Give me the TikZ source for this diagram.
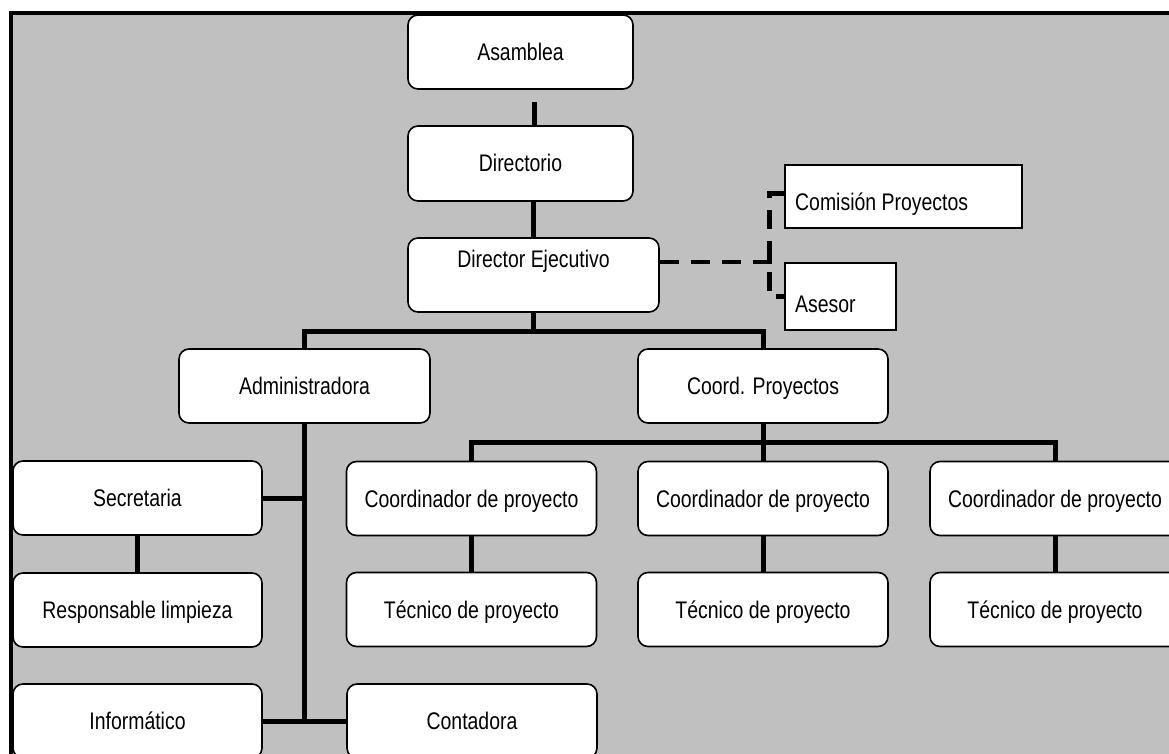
\documentclass[tikz,border=0pt]{standalone}
\usepackage{fontspec}
\setmainfont{Liberation Sans}
\newfontfamily\narrowfont[FakeStretch=0.81]{Liberation Sans}
\usetikzlibrary{calc}
\definecolor{bggray}{HTML}{C0C0C0}
\begin{document}
\begin{tikzpicture}[x=1pt,y=-1pt,
  lbl/.style={font=\narrowfont\fontsize{24}{28}\selectfont, text height=17pt, text depth=0pt, inner sep=0pt},
  box/.style={lbl, draw=black, line width=1.6pt, fill=white, rounded corners=10pt,
              minimum width=250pt, minimum height=74pt},
  sqbox/.style={draw=black, line width=1.6pt, fill=white, inner sep=0pt},
  conn/.style={draw=black, line width=5pt},
  dconn/.style={draw=black, line width=4.5pt, dash pattern=on 19pt off 12pt}]
\useasboundingbox (0,0) rectangle (1169,754);
\clip (0,0) rectangle (1169,754);
% background panel
\path[fill=bggray, draw=black, line width=4pt] (10.5,13) rectangle (1400,900);

% helper coordinates
\coordinate (bar1) at (0,331);
\coordinate (bar2) at (0,442);
\coordinate (dy) at (0,262);
\coordinate (dx) at (769.5,0);
\coordinate (cy) at (0,193.5);

% nodes
\node[box, minimum width=225pt] (asamblea) at (520.5,52) {Asamblea};
\node[box, minimum width=225pt, minimum height=75pt] (directorio) at (520.5,163.5) {Directorio};
\node[box, minimum width=251pt] (dej) at (533.5,275) {};
\node[lbl] (dejt) at (533.5,259) {Director Ejecutivo};
\node[sqbox, minimum width=237pt, minimum height=63pt] (comision) at (903.5,196.5) {};
\node[lbl, anchor=west] (comisiont) at (795,202) {Comisión Proyectos};
\node[sqbox, minimum width=111pt, minimum height=67pt] (asesor) at (840.5,296.5) {};
\node[lbl, anchor=west] (asesort) at (795,304) {Asesor};
\node[box, minimum width=251pt] (admin) at (304.5,386) {Administradora};
\node[box] (coordp) at (763,386) {Coord. Proyectos};
\node[box] (c1) at (471.5,498.5) {Coordinador de proyecto};
\node[box] (c2) at (763,498.5) {Coordinador de proyecto};
\node[box] (c3) at (1055,498.5) {Coordinador de proyecto};
\node[box] (t1) at (471.5,609.5) {Técnico de proyecto};
\node[box] (t2) at (763,609.5) {Técnico de proyecto};
\node[box] (t3) at (1055,609.5) {Técnico de proyecto};
\node[box, minimum width=249pt] (secre) at (137.5,498) {Secretaria};
\node[box, minimum width=249pt] (limp) at (137.5,610) {Responsable limpieza};
\node[box, minimum width=249pt] (info) at (137.5,721) {Informático};
\node[box] (conta) at (472,721) {Contadora};

% connectors
\draw[conn] ($(directorio.north)+(13.5,0)$) -- ++(0,-23);
\draw[conn] (dej.north) -- (dej.north |- directorio.south);
\draw[conn] (dej.south) -- (dej.south |- bar1);
\draw[conn] (admin.north) -- (admin.north |- bar1) -- (coordp.north |- bar1) -- (coordp.north);
\draw[conn] (coordp.south) -- (coordp.south |- bar2);
\draw[conn] (c1.north) -- (c1.north |- bar2) -- (c3.north |- bar2) -- (c3.north);
\draw[conn] (c2.north) -- (c2.north |- bar2);
\draw[conn] (c1.south) -- (t1.north);
\draw[conn] (c2.south) -- (t2.north);
\draw[conn] (c3.south) -- (t3.north);
\draw[conn] (admin.south) -- (admin.south |- info.east);
\draw[conn] (secre.east) -- (secre.east -| admin.south);
\draw[conn] (info.east) -- (conta.west);
\draw[conn] (secre.south) -- (limp.north);
% dashed staff links
\draw[dconn] (dej.east |- dy) -- ($(dx |- dy)+(5.5,0)$);
\draw[dconn] (comision.west |- cy) -- (dx |- cy) -- (dx |- asesor.west) -- (asesor.west);
\end{tikzpicture}
\end{document}
